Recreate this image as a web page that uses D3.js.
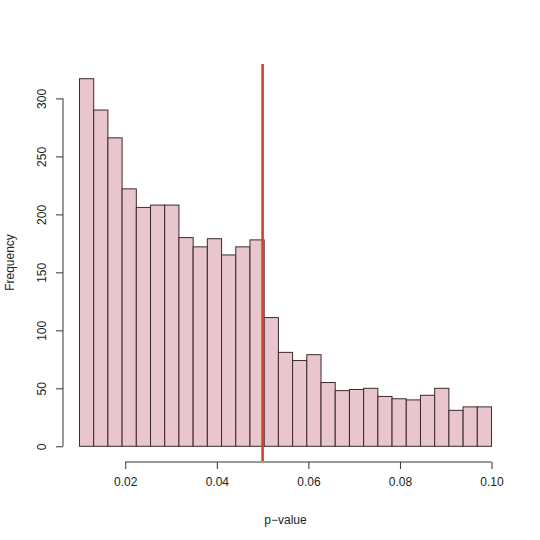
<!DOCTYPE html>
<html>
<head>
<meta charset="utf-8">
<script src="https://cdn.jsdelivr.net/npm/d3@7"></script>
<style>
  html, body { margin: 0; padding: 0; background: #fff; }
  svg { display: block; }
  text { font-family: "Liberation Sans", Arial, Helvetica, sans-serif; fill: #222; }
</style>
</head>
<body>
<svg id="chart" width="540" height="540"></svg>
<script>
// histogram counts, one per bin
const counts = [317, 290, 266, 222, 206, 208, 208, 180, 172, 179, 165, 172, 178,
                111, 81, 74, 79, 55, 48, 49, 50, 43, 41, 40, 44, 50, 31, 34, 34];
const binRange = [0.01, 0.10];
const xTicks = [0.02, 0.04, 0.06, 0.08, 0.10];
const yTicks = [0, 50, 100, 150, 200, 250, 300];
const cutoff = 0.05;

const binWidth = (binRange[1] - binRange[0]) / counts.length;
const bins = counts.map((n, i) => ({
    x0: binRange[0] + i * binWidth,
    x1: binRange[0] + (i + 1) * binWidth,
    n
}));

const svg = d3.select("#chart");

// plot region, R style: limits padded by 4%
const plot = { left: 63, right: 508, top: 64, bottom: 461 };
const xPad = (binRange[1] - binRange[0]) * 0.04;
const yMax = d3.max(counts);

const x = d3.scaleLinear()
    .domain([binRange[0] - xPad, binRange[1] + xPad])
    .range([plot.left, plot.right]);

const y = d3.scaleLinear()
    .domain([-yMax * 0.04, yMax * 1.04])
    .range([plot.bottom, plot.top]);

// bars
svg.append("g").attr("class", "bars-layer")
    .selectAll("rect")
    .data(bins)
    .enter()
    .append("rect")
    .attr("x", d => x(d.x0))
    .attr("y", d => y(d.n))
    .attr("width", d => x(d.x1) - x(d.x0))
    .attr("height", d => y(0) - y(d.n))
    .attr("fill", "#e9c5cd")
    .attr("stroke", "#3b2a2e")
    .attr("stroke-width", 1);

// cutoff line spanning the whole plot region
svg.append("line")
    .attr("x1", x(cutoff)).attr("x2", x(cutoff))
    .attr("y1", plot.top).attr("y2", plot.bottom)
    .attr("stroke", "#d6402f")
    .attr("stroke-width", 2.6);

// x axis
const xAxis = svg.append("g")
    .attr("transform", `translate(0,${plot.bottom + 1})`)
    .call(d3.axisBottom(x).tickValues(xTicks).tickFormat(d3.format(".2f"))
        .tickSizeInner(7).tickSizeOuter(0).tickPadding(8));

xAxis.select(".domain")
    .attr("d", `M${x(xTicks[0])},0H${x(xTicks[xTicks.length - 1])}`);

// y axis
const yAxis = svg.append("g")
    .attr("transform", `translate(${plot.left},0)`)
    .call(d3.axisLeft(y).tickValues(yTicks)
        .tickSizeInner(7).tickSizeOuter(0).tickPadding(0));

yAxis.select(".domain")
    .attr("d", `M0,${y(yTicks[0])}V${y(yTicks[yTicks.length - 1])}`);

yAxis.selectAll(".tick text")
    .attr("x", null).attr("dy", null)
    .attr("transform", "translate(-21,0) rotate(-90)")
    .attr("text-anchor", "middle")
    .attr("dominant-baseline", "central");

[xAxis, yAxis].forEach(g => {
    g.selectAll(".domain, .tick line").attr("stroke", "#333").attr("stroke-width", 1);
    g.selectAll(".tick text").style("font-size", "12px").attr("fill", "#222");
});

// axis titles
svg.append("text")
    .attr("x", (plot.left + plot.right) / 2)
    .attr("y", 524)
    .attr("text-anchor", "middle")
    .style("font-size", "12px")
    .text("p\u2212value");

svg.append("text")
    .attr("transform", `translate(14,${(plot.top + plot.bottom) / 2}) rotate(-90)`)
    .attr("text-anchor", "middle")
    .style("font-size", "12px")
    .text("Frequency");
</script>
</body>
</html>
